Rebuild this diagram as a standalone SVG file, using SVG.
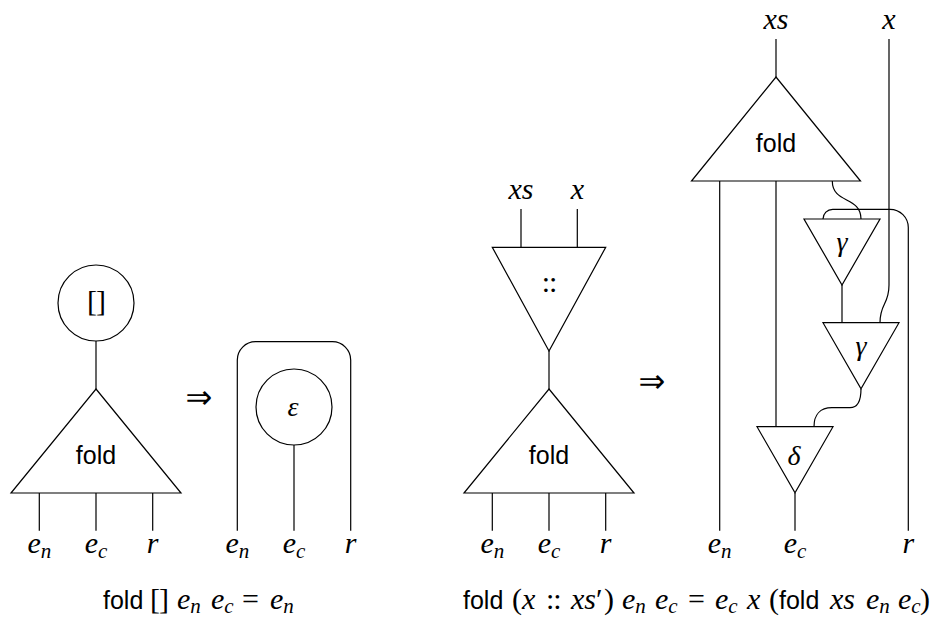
<svg xmlns="http://www.w3.org/2000/svg" width="939" height="619" viewBox="0 0 939 619">
<style>
.ln{fill:none;stroke:#000;stroke-width:1.2}
.nd{fill:#fff;stroke:#000;stroke-width:1.2}
.sf{font-family:"Liberation Sans",Arial,sans-serif;font-size:25px;fill:#000}
.mi{font-family:"Liberation Serif","Times New Roman",serif;font-style:italic;font-size:30px;fill:#000}
.gk{font-family:"Liberation Serif","Times New Roman",serif;font-style:italic;font-size:28px;fill:#000}
.rm{font-family:"Liberation Serif","Times New Roman",serif;font-style:normal;font-size:30px;fill:#000}
.sub{font-size:21px}
.ar{font-family:"DejaVu Sans",sans-serif;font-size:32px;fill:#000}
.c{text-anchor:middle}
</style>
<rect width="939" height="619" fill="#fff"/>

<g id="connectors">
  <!-- left diagram -->
  <path class="ln" d="M96,341 V389"/>
  <path class="ln" d="M39.3,493 V530.7 M96,493 V530.7 M152.7,493 V530.7"/>
  <path class="ln" d="M237.3,530.7 V360 A18.3,18.3 0 0 1 255.6,341.7 H332.4 A18.3,18.3 0 0 1 350.7,360 V530.7"/>
  <path class="ln" d="M294,445 V530.7"/>
  <!-- middle diagram -->
  <path class="ln" d="M521,209 V247.3 M577.3,209 V247.3"/>
  <path class="ln" d="M549,351 V389"/>
  <path class="ln" d="M492.3,493 V530.7 M549,493 V530.7 M605.7,493 V530.7"/>
  <!-- right diagram -->
  <path class="ln" d="M776,39 V77"/>
  <path class="ln" d="M719.7,181 V530.7"/>
  <path class="ln" d="M776,181 V426.7"/>
  <path class="ln" d="M832.3,181 C832.3,204 861,196 861,219"/>
  <path class="ln" d="M889,39 V285 C889,305 880,303 880,322.7"/>
  <path class="ln" d="M823,219 A9.7,9.7 0 0 1 832.7,209.3 H890 A18.3,18.3 0 0 1 908.3,227.6 V530.7"/>
  <path class="ln" d="M842,285 V322.7"/>
  <path class="ln" d="M861,388.7 C861,403 857,407.7 850,407.7 H832 C820,407.7 814,415 814,426.7"/>
  <path class="ln" d="M795,492.7 V530.7"/>
</g>

<g id="nil">
  <circle class="nd" cx="96" cy="303" r="38"/>
  <text class="rm c" x="96" y="311" font-size="27" letter-spacing="-1">[]</text>
</g>
<g id="fold-left">
  <polygon class="nd" points="96,389 181,493 11,493"/>
  <text class="sf c" x="96" y="464">fold</text>
</g>
<g id="arrow-left">
  <text class="ar c" x="199" y="408">⇒</text>
</g>
<g id="epsilon">
  <circle class="nd" cx="294" cy="407" r="38"/>
  <text class="gk c" x="293" y="416">ε</text>
</g>

<g id="cons">
  <polygon class="nd" points="492.3,247.3 605.7,247.3 549,351"/>
  <text class="rm c" x="549" y="292" font-size="28" letter-spacing="-1">::</text>
</g>
<g id="fold-mid">
  <polygon class="nd" points="549,389 634,493 464,493"/>
  <text class="sf c" x="549" y="464">fold</text>
</g>
<g id="arrow-mid">
  <text class="ar c" x="652" y="392">⇒</text>
</g>

<g id="fold-right">
  <polygon class="nd" points="776,77 860.5,181 691.5,181"/>
  <text class="sf c" x="776" y="152">fold</text>
</g>
<g id="gamma1">
  <polygon class="nd" points="804,219 880,219 842,285"/>
  <text class="gk c" x="842" y="251">γ</text>
</g>
<g id="gamma2">
  <polygon class="nd" points="823,322.7 899,322.7 861,388.7"/>
  <text class="gk c" x="861" y="355">γ</text>
</g>
<g id="delta">
  <polygon class="nd" points="757,426.7 833,426.7 795,492.7"/>
  <text class="gk c" x="794" y="465">δ</text>
</g>

<g id="labels">
  <text class="mi c" x="39.3" y="553">e<tspan class="sub" dy="5">n</tspan></text>
  <text class="mi c" x="96" y="553">e<tspan class="sub" dy="5">c</tspan></text>
  <text class="mi c" x="152.7" y="553">r</text>
  <text class="mi c" x="237.3" y="553">e<tspan class="sub" dy="5">n</tspan></text>
  <text class="mi c" x="294" y="553">e<tspan class="sub" dy="5">c</tspan></text>
  <text class="mi c" x="350.7" y="553">r</text>

  <text class="mi c" x="521" y="199">xs</text>
  <text class="mi c" x="577.3" y="199">x</text>
  <text class="mi c" x="492.3" y="553">e<tspan class="sub" dy="5">n</tspan></text>
  <text class="mi c" x="549" y="553">e<tspan class="sub" dy="5">c</tspan></text>
  <text class="mi c" x="605.7" y="553">r</text>

  <text class="mi c" x="776" y="29">xs</text>
  <text class="mi c" x="889" y="29">x</text>
  <text class="mi c" x="719.7" y="553">e<tspan class="sub" dy="5">n</tspan></text>
  <text class="mi c" x="795" y="553">e<tspan class="sub" dy="5">c</tspan></text>
  <text class="mi c" x="908.3" y="553">r</text>
</g>

<g id="caption-left">
  <text class="sf" x="103" y="609">fold</text>
  <text class="rm" x="150" y="609" font-size="27" letter-spacing="-1">[]</text>
  <text class="mi" x="177" y="609">e<tspan class="sub" dy="3.5">n</tspan></text>
  <text class="mi" x="211" y="609">e<tspan class="sub" dy="3.5">c</tspan></text>
  <text class="rm" x="242" y="609">=</text>
  <text class="mi" x="270" y="609">e<tspan class="sub" dy="3.5">n</tspan></text>
</g>

<g id="caption-right">
  <text class="sf" x="463" y="609">fold</text>
  <text class="rm" x="512" y="609">(</text>
  <text class="mi" x="522" y="609">x</text>
  <text class="rm" x="546" y="609" letter-spacing="-1">::</text>
  <text class="mi" x="571" y="609">xs<tspan class="rm">′</tspan></text>
  <text class="rm" x="604" y="609">)</text>
  <text class="mi" x="622" y="609">e<tspan class="sub" dy="3.5">n</tspan></text>
  <text class="mi" x="655" y="609">e<tspan class="sub" dy="3.5">c</tspan></text>
  <text class="rm" x="688" y="609">=</text>
  <text class="mi" x="715" y="609">e<tspan class="sub" dy="3.5">c</tspan></text>
  <text class="mi" x="747" y="609">x</text>
  <text class="rm" x="769" y="609">(</text>
  <text class="sf" x="779" y="609">fold</text>
  <text class="mi" x="830" y="609">xs</text>
  <text class="mi" x="866" y="609">e<tspan class="sub" dy="3.5">n</tspan></text>
  <text class="mi" x="898" y="609">e<tspan class="sub" dy="3.5">c</tspan></text>
  <text class="rm" x="920" y="609">)</text>
</g>
</svg>
